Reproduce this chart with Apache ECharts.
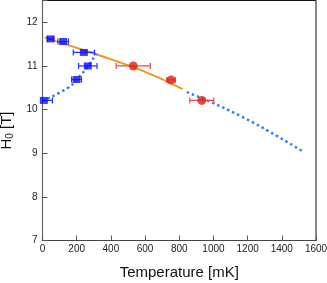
<!DOCTYPE html>
<html>
<head>
<meta charset="utf-8">
<script src="https://cdn.jsdelivr.net/npm/echarts@6/dist/echarts.min.js"></script>
<style>html,body{margin:0;padding:0;background:#fff}#c{width:327px;height:283px}</style>
</head>
<body>
<div id="c"></div>
<script>
// Blue squares (T in mK, H0 in T, x-error in mK)
var blueT = [8, 199, 265, 242, 121, 47];
var blueH = [10.21, 10.69, 11.0, 11.31, 11.56, 11.62];
var blueErr = [50, 29, 54, 62, 31, 18];
// Red circles
var redT = [531, 752, 932];
var redH = [11.0, 10.68, 10.21];
var redErr = [100, 25, 70];
// Orange fit line
var orangeT = [12, 336, 590, 820];
var orangeH = [11.65, 11.24, 10.88, 10.47];
// Blue dotted lines
var dotLowT = [0, 150, 200, 267, 315];
var dotLowH = [10.2, 10.5, 10.69, 11.0, 11.29];
var dotHighT = [844, 1170, 1527];
var dotHighH = [10.40, 9.83, 9.03];
// Axis ticks
var xTicks = [0, 200, 400, 600, 800, 1000, 1200, 1400, 1600];
var yTicks = [7, 8, 9, 10, 11, 12];

function pairs(a, b) { return a.map(function (v, i) { return [v, b[i]]; }); }
function errData(t, h, e) { return t.map(function (v, i) { return [v, h[i], e[i]]; }); }

function errRender(color) {
  return function (params, api) {
    var x = api.value(0), y = api.value(1), e = api.value(2);
    var p1 = api.coord([x - e, y]);
    var p2 = api.coord([x + e, y]);
    var cap = 3;
    var style = { stroke: color, lineWidth: 1.2 };
    return {
      type: 'group',
      children: [
        { type: 'line', shape: { x1: p1[0], y1: p1[1], x2: p2[0], y2: p2[1] }, style: style },
        { type: 'line', shape: { x1: p1[0], y1: p1[1] - cap, x2: p1[0], y2: p1[1] + cap }, style: style },
        { type: 'line', shape: { x1: p2[0], y1: p2[1] - cap, x2: p2[0], y2: p2[1] + cap }, style: style }
      ]
    };
  };
}

var chart = echarts.init(document.getElementById('c'), null, { renderer: 'canvas' });
var font = 'Liberation Sans, Arial, sans-serif';
chart.setOption({
  animation: false,
  grid: { left: 42.5, right: 11, top: 0.5, bottom: 42.5, show: true, borderColor: '#111', borderWidth: 1,
          containLabel: false, outerBoundsMode: 'none' },
  xAxis: {
    type: 'value', min: 0, max: 1600, interval: 200,
    name: 'Temperature [mK]', nameLocation: 'middle', nameGap: 25,
    nameTextStyle: { fontSize: 15, color: '#111', fontFamily: font },
    axisLine: { show: true, lineStyle: { color: '#444', width: 1.2 } },
    axisTick: { show: true, inside: true, length: 5, lineStyle: { color: '#555' } },
    axisLabel: { fontSize: 10, color: '#222', fontFamily: font, margin: 4,
      formatter: function (v) { return xTicks.indexOf(v) >= 0 ? String(v) : ''; } },
    splitLine: { show: false }
  },
  yAxis: {
    type: 'value', min: 7, max: 12.5, interval: 1,
    name: '{a|H}{b|0}{a| [T]}', nameLocation: 'middle', nameGap: 24, nameRotate: 90,
    nameTextStyle: { fontSize: 15, color: '#111', fontFamily: font, padding: [0, 0, 0, -20],
      rich: { a: { fontSize: 15, fontFamily: font, color: '#111' },
              b: { fontSize: 10, fontFamily: font, color: '#111', verticalAlign: 'bottom', padding: [8, 0, 0, 0] } } },
    axisLine: { show: true, lineStyle: { color: '#666', width: 1.2 } },
    axisTick: { show: true, inside: true, length: 5, lineStyle: { color: '#555' } },
    axisLabel: { fontSize: 10, color: '#222', fontFamily: font, margin: 5,
      formatter: function (v) { return yTicks.indexOf(v) >= 0 ? String(v) : ''; } },
    splitLine: { show: false }
  },
  series: [
    { type: 'line', data: pairs(orangeT, orangeH), smooth: true, symbol: 'none',
      lineStyle: { color: '#f7941d', width: 2 }, z: 2 },
    { type: 'line', data: pairs(dotLowT, dotLowH), smooth: true, symbol: 'none',
      lineStyle: { color: '#2f7ef5', width: 2.5, type: [2.5, 3] }, z: 2 },
    { type: 'line', data: pairs(dotHighT, dotHighH), smooth: true, symbol: 'none',
      lineStyle: { color: '#2f7ef5', width: 2.5, type: [2.5, 3] }, z: 2 },
    { type: 'custom', data: errData(blueT, blueH, blueErr), renderItem: errRender('#2233ff'), clip: true, z: 3 },
    { type: 'custom', data: errData(redT, redH, redErr), renderItem: errRender('#e84a4a'), clip: true, z: 3 },
    { type: 'scatter', data: pairs(blueT, blueH), symbol: 'rect', symbolSize: [8, 7],
      itemStyle: { color: '#0a0aff' }, z: 4 },
    { type: 'scatter', data: pairs(redT, redH), symbol: 'circle', symbolSize: 9,
      itemStyle: { color: '#e01e14' }, z: 4 }
  ]
});
</script>
</body>
</html>
